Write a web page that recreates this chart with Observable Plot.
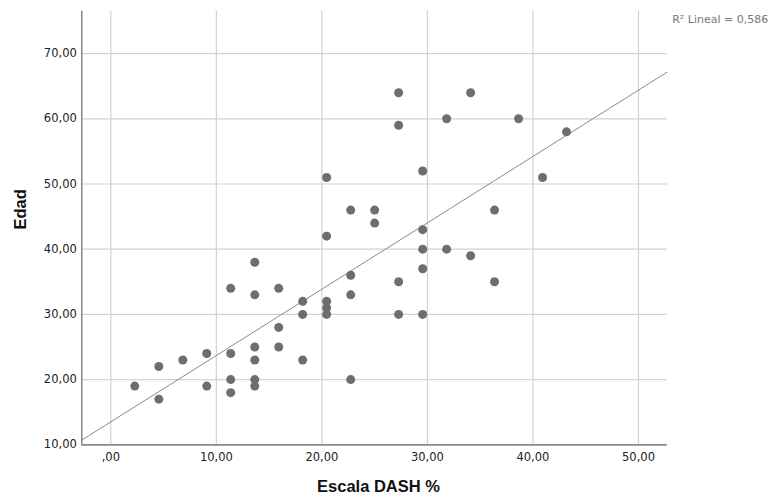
<!DOCTYPE html>
<html>
<head>
<meta charset="utf-8">
<script src="https://cdn.jsdelivr.net/npm/d3@7"></script>
<script src="https://cdn.jsdelivr.net/npm/@observablehq/plot@0.6"></script>
<style>
  html, body { margin: 0; padding: 0; background: #ffffff; }
  #chart { width: 769px; height: 495px; }
</style>
</head>
<body>
<div id="chart"></div>
<script>
// Escala DASH % (x) and Edad (y)
const dash = [27.27, 34.09, 31.82, 38.64, 27.27, 43.18, 29.55, 20.45, 40.91, 22.73,
              25.00, 36.36, 25.00, 29.55, 20.45, 29.55, 31.82, 34.09, 13.64, 29.55,
              22.73, 27.27, 36.36, 11.36, 15.91, 13.64, 22.73, 18.18, 20.45, 20.45,
              18.18, 20.45, 27.27, 29.55, 15.91, 13.64, 15.91, 9.09, 11.36, 6.82,
              13.64, 18.18, 4.55, 2.27, 9.09, 11.36, 13.64, 13.64, 22.73, 11.36,
              4.55];
const edad = [64, 64, 60, 60, 59, 58, 52, 51, 51, 46,
              46, 46, 44, 43, 42, 40, 40, 39, 38, 37,
              36, 35, 35, 34, 34, 33, 33, 32, 32, 31,
              30, 30, 30, 30, 28, 25, 25, 24, 24, 23,
              23, 23, 22, 19, 19, 20, 20, 19, 20, 18,
              17];

const xTicks = [0, 10, 20, 30, 40, 50];
const yTicks = [10, 20, 30, 40, 50, 60, 70];
const xDomain = [-2.75, 52.72];
const yDomain = [10, 76.5];

// Linear fit drawn by SPSS
const fitIntercept = [13.52];
const fitSlope = [1.0175];
const r2Label = ["R\u00B2 Lineal = 0,586"];
const xLabel = ["Escala DASH %"];
const yLabel = ["Edad"];

const points = dash.map((d, i) => ({x: d, y: edad[i]}));
const fitLine = xDomain.map(x => ({x, y: fitIntercept[0] + fitSlope[0] * x}));

const fmt = d => (d === 0 ? ",00" : d.toFixed(2).replace(".", ","));

const chart = Plot.plot({
  width: 769,
  height: 495,
  marginLeft: 81.3,
  marginRight: 102.3,
  marginTop: 10.7,
  marginBottom: 50.7,
  x: {domain: xDomain},
  y: {domain: yDomain},
  style: {fontFamily: "DejaVu Sans", fontSize: "11.5px", color: "#222", background: "#ffffff"},
  marks: [
    Plot.gridX(xTicks, {stroke: "#d2d2d2", strokeOpacity: 1, strokeWidth: 1.2}),
    Plot.gridY(yTicks, {stroke: "#d2d2d2", strokeOpacity: 1, strokeWidth: 1.2}),
    Plot.ruleX([xDomain[0]], {stroke: "#6a6a6a", strokeWidth: 1.2}),
    Plot.ruleY([yDomain[0]], {stroke: "#6a6a6a", strokeWidth: 1.2}),
    Plot.axisX(xTicks, {tickSize: 0, tickPadding: 8, tickFormat: fmt, label: null}),
    Plot.axisY(yTicks, {tickSize: 0, tickPadding: 5, tickFormat: fmt, label: null}),
    Plot.line(fitLine, {x: "x", y: "y", stroke: "#8a8a8a", strokeWidth: 1}),
    Plot.dot(points, {x: "x", y: "y", r: 4.5, fill: "#6e6e6e", stroke: "none"}),
    Plot.text(r2Label, {frameAnchor: "top-right", dx: 5, dy: 8.3, textAnchor: "start",
      lineAnchor: "middle", fill: "#777", fontSize: 11, text: d => d}),
    Plot.text(xLabel, {frameAnchor: "bottom", dx: 4, dy: 42.4, lineAnchor: "middle",
      fontFamily: "Liberation Sans", fontWeight: "bold", fontSize: 16.5, fill: "#111", text: d => d}),
    Plot.text(yLabel, {frameAnchor: "left", dx: -61.3, dy: 1.5, rotate: -90, lineAnchor: "middle",
      fontFamily: "Liberation Sans", fontWeight: "bold", fontSize: 16.5, fill: "#111", text: d => d})
  ]
});
document.getElementById("chart").appendChild(chart);
</script>
</body>
</html>
